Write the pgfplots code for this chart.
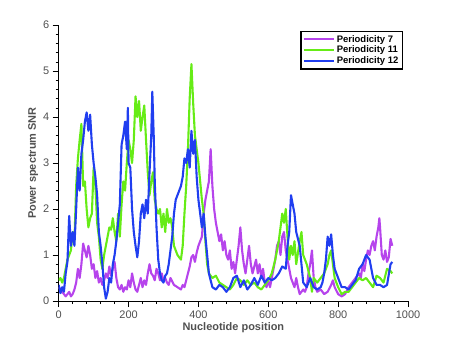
\documentclass[border=0pt]{standalone}
\usepackage{pgfplots}
\pgfplotsset{compat=1.18}
\usepackage{fontspec}
\setmainfont{Liberation Sans}
\definecolor{cpurple}{RGB}{182,68,236}
\definecolor{cgreen}{RGB}{102,236,22}
\definecolor{cblue}{RGB}{32,62,240}
\definecolor{labgray}{RGB}{80,80,80}
\begin{document}
\begin{tikzpicture}
\path[use as bounding box] (0,0) rectangle (450bp,338bp);
\begin{axis}[
  at={(58.7bp,37bp)}, anchor=south west,
  scale only axis, width=349.3bp, height=276bp,
  xmin=0, xmax=1000, ymin=0, ymax=6,
  axis lines*=left,
  axis line style={line width=0.8pt},
  tick align=outside,
  xtick={0,200,...,1000}, ytick={0,1,...,6},
  minor x tick num=4, minor y tick num=4,
  major tick length=6bp, minor tick length=3bp,
  tick style={black, line width=0.6pt},
  ticklabel style={font=\fontsize{11}{13}\selectfont, text=labgray},
  /pgf/number format/assume math mode=true,
  /pgf/number format/set thousands separator={},
  xlabel={Nucleotide position}, ylabel={Power spectrum SNR},
  label style={font=\fontsize{11}{13}\selectfont\bfseries, text=labgray},
  xlabel style={yshift=3bp},
  ylabel style={yshift=-2bp},
  legend style={at={(0.985,0.979)}, anchor=north east, draw=black, line width=1.2pt,
    font=\fontsize{9.5}{11}\selectfont\bfseries, inner sep=1.8bp, row sep=-1.5bp,
    cells={anchor=west}},
  legend image code/.code={\draw[#1] (0bp,0bp) -- (30bp,0bp);},
  every axis plot/.append style={line width=2.1pt, line join=round},
]
\addplot[cpurple] coordinates {
(0,0.3)(10,0.2)(20,0.1)(25,0.15)(30,0.2)(35,0.1)(40,0.15)(45,0.25)(50,0.4)(55,0.7)(60,0.5)(65,0.8)(70,1.25)(75,1.1)(80,0.95)(85,1.2)(90,1.0)(95,0.7)(100,0.8)(105,0.5)(110,0.65)(115,0.4)(120,0.5)(125,0.35)(130,0.45)(135,0.6)(140,0.5)(145,0.75)(150,0.55)(155,0.7)(160,0.85)(165,0.5)(170,0.3)(175,0.25)(180,0.35)(185,0.2)(190,0.3)(195,0.25)(200,0.45)(205,0.3)(210,0.6)(215,0.4)(220,0.25)(225,0.2)(230,0.35)(235,0.5)(240,0.3)(245,0.45)(250,0.35)(255,0.6)(260,0.8)(265,0.6)(270,0.55)(275,0.45)(280,0.7)(285,0.6)(290,0.45)(295,0.6)(300,0.45)(305,0.5)(310,0.4)(315,0.35)(320,0.5)(330,0.35)(340,0.3)(350,0.25)(355,0.35)(360,0.3)(365,0.45)(370,0.6)(375,0.75)(380,0.95)(385,1.0)(390,0.85)(395,1.05)(400,1.2)(405,1.3)(410,1.4)(415,1.9)(420,2.2)(425,2.4)(430,2.6)(435,3.3)(440,2.5)(445,2.0)(450,1.7)(455,1.5)(460,1.3)(465,1.45)(470,1.1)(475,1.3)(480,1.0)(485,0.9)(490,1.1)(495,0.7)(500,0.85)(505,0.6)(510,0.9)(515,1.2)(520,1.6)(525,1.1)(530,0.8)(535,0.6)(540,0.9)(545,1.2)(550,0.8)(555,0.6)(560,0.75)(565,0.9)(570,0.6)(575,0.8)(580,0.5)(585,0.7)(590,0.4)(595,0.3)(600,0.45)(605,0.3)(610,0.5)(615,0.7)(620,0.9)(625,1.2)(630,1.3)(635,1.0)(640,1.4)(645,1.5)(650,1.1)(655,0.9)(660,0.7)(665,0.5)(670,0.4)(675,0.3)(680,0.5)(685,0.3)(690,0.15)(695,0.2)(700,0.25)(705,0.2)(710,0.3)(715,0.6)(720,0.8)(725,1.1)(730,0.5)(735,0.3)(740,0.2)(750,0.25)(760,0.15)(770,0.2)(780,0.35)(785,0.45)(790,0.3)(800,0.15)(810,0.1)(820,0.15)(830,0.3)(840,0.4)(850,0.5)(860,0.6)(865,0.5)(870,0.8)(875,0.65)(880,0.9)(885,1.1)(890,1.0)(895,1.2)(900,1.3)(905,1.1)(910,1.4)(915,1.6)(918,1.8)(920,1.6)(925,1.0)(930,0.9)(935,1.1)(940,0.85)(945,0.95)(950,1.35)(955,1.2)
};
\addlegendentry{Periodicity 7}
\addplot[cgreen] coordinates {
(0,0.45)(5,0.5)(10,0.4)(15,0.5)(20,0.7)(25,0.9)(30,1.0)(35,1.1)(40,1.5)(45,1.3)(50,2.5)(55,3.1)(60,3.5)(65,3.85)(70,2.5)(75,2.6)(80,2.0)(85,1.6)(90,1.8)(95,1.9)(100,2.9)(105,2.5)(110,1.7)(115,1.4)(120,0.9)(125,0.7)(130,1.0)(135,1.2)(140,1.4)(145,1.6)(150,1.55)(155,1.8)(160,1.5)(165,1.3)(170,1.9)(175,1.4)(180,2.1)(185,2.6)(190,2.4)(195,3.0)(200,3.5)(205,3.3)(210,3.0)(215,3.5)(220,4.45)(225,4.0)(230,4.35)(235,3.7)(240,4.0)(245,4.25)(250,3.5)(255,2.8)(260,2.3)(265,2.6)(270,2.8)(275,2.2)(280,2.0)(285,1.9)(290,2.0)(295,1.6)(300,1.9)(305,1.5)(310,2.0)(315,1.7)(320,1.8)(325,1.6)(330,1.2)(335,1.1)(340,1.0)(345,0.95)(350,0.9)(355,1.2)(360,1.9)(365,2.5)(370,3.3)(375,4.4)(380,5.15)(385,4.3)(390,3.6)(395,3.3)(400,3.0)(405,2.6)(410,2.2)(415,1.9)(420,1.3)(425,0.8)(430,0.6)(440,0.5)(450,0.55)(460,0.4)(470,0.35)(480,0.3)(490,0.25)(500,0.35)(510,0.5)(520,0.45)(530,0.35)(540,0.45)(550,0.35)(560,0.4)(570,0.3)(580,0.25)(590,0.35)(600,0.45)(610,0.6)(620,0.9)(630,1.3)(640,1.9)(645,1.7)(650,2.0)(655,1.4)(660,0.9)(665,1.2)(670,1.0)(675,1.3)(680,0.8)(690,1.3)(695,1.5)(700,1.0)(710,0.8)(720,0.5)(725,0.2)(730,0.5)(740,0.4)(750,0.5)(760,0.6)(770,0.8)(775,1.0)(780,1.1)(785,0.8)(790,0.5)(800,0.3)(810,0.15)(820,0.2)(830,0.2)(840,0.3)(850,0.4)(860,0.5)(870,0.45)(880,0.5)(890,0.4)(900,0.3)(910,0.55)(920,0.5)(930,0.4)(940,0.7)(950,0.65)(955,0.6)
};
\addlegendentry{Periodicity 11}
\addplot[cblue] coordinates {
(0,0.35)(5,0.17)(10,0.3)(15,0.2)(20,0.6)(25,0.85)(30,1.85)(35,1.2)(40,1.5)(45,1.2)(50,2.0)(55,2.9)(60,2.4)(65,3.2)(70,3.5)(75,3.9)(80,4.1)(85,3.7)(90,4.05)(95,3.4)(100,3.0)(105,2.7)(110,2.3)(115,1.5)(120,1.2)(125,0.8)(130,0.3)(135,0.05)(140,0.2)(145,0.5)(150,0.4)(155,0.8)(160,1.0)(165,1.3)(170,1.7)(175,2.1)(180,3.4)(185,3.6)(190,3.9)(195,3.3)(198,4.2)(200,3.0)(205,2.9)(210,2.0)(215,1.5)(220,1.2)(225,0.95)(230,1.3)(235,1.9)(240,2.1)(245,1.8)(250,2.2)(255,1.9)(260,2.8)(265,3.6)(268,4.55)(272,3.6)(275,2.6)(280,1.6)(285,0.9)(290,0.6)(295,0.45)(300,0.4)(305,0.55)(310,0.6)(315,0.8)(320,1.1)(325,1.4)(330,1.9)(335,2.2)(340,2.3)(345,2.4)(350,2.5)(355,2.7)(360,3.1)(365,3.0)(370,3.3)(375,2.9)(380,3.7)(385,3.2)(390,3.5)(395,2.7)(400,2.2)(405,1.9)(410,1.6)(415,1.9)(420,1.4)(425,1.0)(430,0.6)(440,0.3)(450,0.25)(460,0.35)(470,0.3)(480,0.2)(490,0.3)(500,0.5)(510,0.55)(520,0.3)(530,0.45)(540,0.25)(550,0.35)(560,0.5)(570,0.35)(580,0.55)(590,0.4)(600,0.5)(610,0.45)(620,0.5)(630,0.6)(640,0.75)(650,0.7)(655,1.2)(660,1.5)(665,2.3)(670,2.1)(675,1.9)(680,1.5)(690,1.2)(695,0.8)(700,0.4)(710,0.3)(720,0.5)(730,0.3)(740,0.25)(750,0.3)(755,0.4)(760,0.6)(765,0.9)(770,1.4)(775,1.2)(780,1.45)(785,1.0)(790,0.7)(800,0.5)(810,0.3)(820,0.3)(830,0.25)(840,0.35)(850,0.45)(860,0.7)(870,0.8)(880,1.0)(890,0.9)(900,0.5)(910,0.35)(920,0.35)(930,0.3)(940,0.35)(950,0.8)(955,0.85)
};
\addlegendentry{Periodicity 12}
\end{axis}
\end{tikzpicture}
\end{document}
